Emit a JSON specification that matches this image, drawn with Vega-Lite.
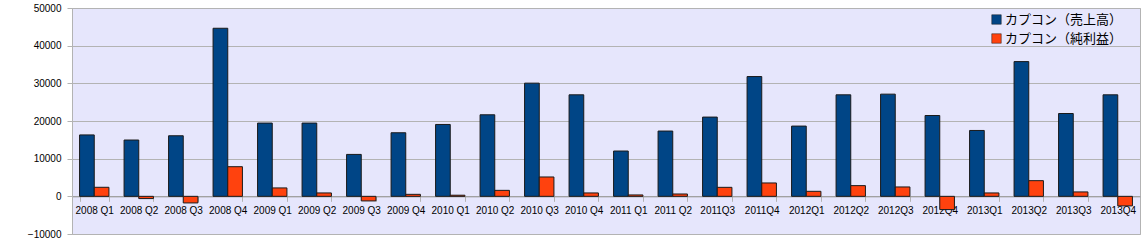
{
  "$schema": "https://vega.github.io/schema/vega-lite/v6.json",
  "autosize": {"type": "none"},
  "width": 1068,
  "height": 226,
  "padding": {"left": 72, "top": 8, "right": 6, "bottom": 15},
  "background": "#ffffff",
  "config": {
    "view": {"fill": "#e6e6fc", "stroke": "#b3b3b3", "strokeWidth": 1},
    "font": "Liberation Sans"
  },
  "data": {
    "values": [
      {"q": "2008 Q1", "s": "カプコン（売上高）", "v": 16300},
      {"q": "2008 Q1", "s": "カプコン（純利益）", "v": 2400},
      {"q": "2008 Q2", "s": "カプコン（売上高）", "v": 14950},
      {"q": "2008 Q2", "s": "カプコン（純利益）", "v": -600},
      {"q": "2008 Q3", "s": "カプコン（売上高）", "v": 16080},
      {"q": "2008 Q3", "s": "カプコン（純利益）", "v": -1750},
      {"q": "2008 Q4", "s": "カプコン（売上高）", "v": 44620},
      {"q": "2008 Q4", "s": "カプコン（純利益）", "v": 7870},
      {"q": "2009 Q1", "s": "カプコン（売上高）", "v": 19450},
      {"q": "2009 Q1", "s": "カプコン（純利益）", "v": 2230},
      {"q": "2009 Q2", "s": "カプコン（売上高）", "v": 19450},
      {"q": "2009 Q2", "s": "カプコン（純利益）", "v": 900},
      {"q": "2009 Q3", "s": "カプコン（売上高）", "v": 11130},
      {"q": "2009 Q3", "s": "カプコン（純利益）", "v": -1220},
      {"q": "2009 Q4", "s": "カプコン（売上高）", "v": 16880},
      {"q": "2009 Q4", "s": "カプコン（純利益）", "v": 530},
      {"q": "2010 Q1", "s": "カプコン（売上高）", "v": 19080},
      {"q": "2010 Q1", "s": "カプコン（純利益）", "v": 300},
      {"q": "2010 Q2", "s": "カプコン（売上高）", "v": 21650},
      {"q": "2010 Q2", "s": "カプコン（純利益）", "v": 1590},
      {"q": "2010 Q3", "s": "カプコン（売上高）", "v": 30050},
      {"q": "2010 Q3", "s": "カプコン（純利益）", "v": 5140},
      {"q": "2010 Q4", "s": "カプコン（売上高）", "v": 26950},
      {"q": "2010 Q4", "s": "カプコン（純利益）", "v": 900},
      {"q": "2011 Q1", "s": "カプコン（売上高）", "v": 12030},
      {"q": "2011 Q1", "s": "カプコン（純利益）", "v": 370},
      {"q": "2011 Q2", "s": "カプコン（売上高）", "v": 17330},
      {"q": "2011 Q2", "s": "カプコン（純利益）", "v": 620},
      {"q": "2011Q3", "s": "カプコン（売上高）", "v": 21040},
      {"q": "2011Q3", "s": "カプコン（純利益）", "v": 2390},
      {"q": "2011Q4", "s": "カプコン（売上高）", "v": 31800},
      {"q": "2011Q4", "s": "カプコン（純利益）", "v": 3550},
      {"q": "2012Q1", "s": "カプコン（売上高）", "v": 18650},
      {"q": "2012Q1", "s": "カプコン（純利益）", "v": 1330},
      {"q": "2012Q2", "s": "カプコン（売上高）", "v": 26950},
      {"q": "2012Q2", "s": "カプコン（純利益）", "v": 2840},
      {"q": "2012Q3", "s": "カプコン（売上高）", "v": 27130},
      {"q": "2012Q3", "s": "カプコン（純利益）", "v": 2490},
      {"q": "2012Q4", "s": "カプコン（売上高）", "v": 21460},
      {"q": "2012Q4", "s": "カプコン（純利益）", "v": -3520},
      {"q": "2013Q1", "s": "カプコン（売上高）", "v": 17490},
      {"q": "2013Q1", "s": "カプコン（純利益）", "v": 900},
      {"q": "2013Q2", "s": "カプコン（売上高）", "v": 35770},
      {"q": "2013Q2", "s": "カプコン（純利益）", "v": 4160},
      {"q": "2013Q3", "s": "カプコン（売上高）", "v": 21990},
      {"q": "2013Q3", "s": "カプコン（純利益）", "v": 1170},
      {"q": "2013Q4", "s": "カプコン（売上高）", "v": 26950},
      {"q": "2013Q4", "s": "カプコン（純利益）", "v": -2540}
    ]
  },
  "mark": {"type": "bar", "stroke": "#1a1a1a", "strokeWidth": 1},
  "encoding": {
    "x": {
      "field": "q",
      "type": "nominal",
      "sort": null,
      "title": null,
      "scale": {"paddingInner": 0.34, "paddingOuter": 0.17},
      "axis": {
        "orient": "bottom",
        "offset": -37.67,
        "labelAngle": 0,
        "labelFontSize": 10,
        "labelColor": "#000000",
        "labelPadding": 4,
        "tickBand": "extent",
        "tickSize": 5,
        "tickColor": "#b3b3b3",
        "domainColor": "#999999",
        "grid": false,
        "zindex": 0
      }
    },
    "xOffset": {"field": "s", "type": "nominal", "sort": null, "scale": {"paddingInner": 0, "paddingOuter": 0}},
    "y": {
      "field": "v",
      "type": "quantitative",
      "title": null,
      "scale": {"domain": [-10000, 50000], "nice": false, "zero": false},
      "axis": {
        "values": [-10000, 0, 10000, 20000, 30000, 40000, 50000],
        "format": "d",
        "labelFontSize": 10,
        "labelColor": "#000000",
        "labelPadding": 6,
        "tickSize": 5,
        "tickColor": "#b3b3b3",
        "domainColor": "#b3b3b3",
        "gridColor": "#b3b3b3",
        "gridOpacity": 1
      }
    },
    "color": {
      "field": "s",
      "type": "nominal",
      "sort": null,
      "scale": {"range": ["#004586", "#ff420e"]},
      "legend": {
        "title": null,
        "orient": "none",
        "legendX": 918,
        "legendY": 5,
        "symbolType": "square",
        "symbolSize": 90,
        "symbolStrokeColor": "#1a1a1a",
        "symbolStrokeWidth": 0.5,
        "labelFont": "Noto Sans CJK JP",
        "labelFontSize": 13,
        "labelColor": "#000000",
        "labelOffset": 2,
        "rowPadding": 5
      }
    }
  }
}
